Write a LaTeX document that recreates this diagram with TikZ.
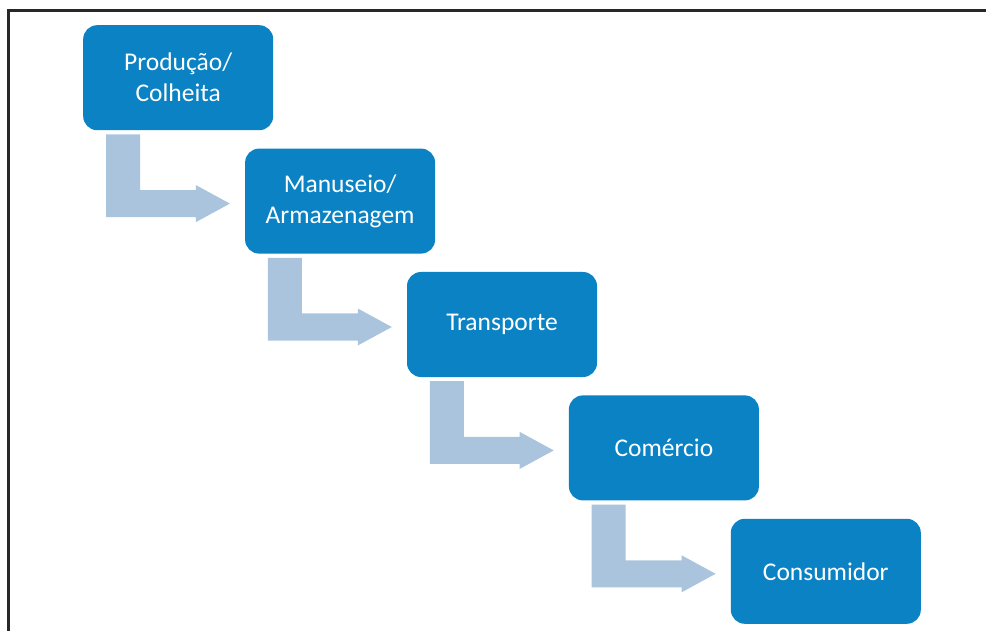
\documentclass[tikz,border=0pt]{standalone}
\usepackage{fontspec}
\setmainfont{Carlito}
\usepackage{tikz}
\usetikzlibrary{positioning}

\definecolor{boxblue}{RGB}{10,130,195}
\definecolor{flowblue}{RGB}{170,196,222}
\definecolor{framegray}{RGB}{40,40,40}

\tikzset{
  stage/.style={rectangle,rounded corners=14pt,fill=boxblue,text=white,
    minimum width=190pt,minimum height=105pt,inner sep=0pt,align=center,
    font=\fontsize{25.5}{31}\selectfont},
  flow/.style={fill=flowblue}
}

% bent arrow from the bottom of one stage to the left of the next
\newcommand\bentarrow[2]{%
  \path ([xshift=23pt,yshift=-4pt]#1.south west) coordinate (#1p)
        ([xshift=-15pt,yshift=-2.5pt]#2.west) coordinate (#1t);
  \fill[flow] (#1p) -- ++(34,0) |- ([shift={(-34,-13.5)}]#1t) -- ++(0,-5)
    -- (#1t) -- ([shift={(-34,18.5)}]#1t) -- ++(0,-5) -| (#1p) -- cycle;
}

\begin{document}
\begin{tikzpicture}[x=1pt,y=-1pt]
  \useasboundingbox (0,0) rectangle (986,631);
  \draw[framegray,line width=2.5pt] (8.3,631) -- (8.3,10.5) -- (986,10.5);

  \node[stage,anchor=north west](prod) at (83,25) {Produção/\\Colheita};
  \node[stage,below right=18pt and -28.5pt of prod](man) {Manuseio/\\Armazenagem};
  \node[stage,below right=18pt and -28.5pt of man](trans) {Transporte};
  \node[stage,below right=18pt and -28.5pt of trans](com) {Comércio};
  \node[stage,below right=18pt and -28.5pt of com](cons) {Consumidor};

  \bentarrow{prod}{man}
  \bentarrow{man}{trans}
  \bentarrow{trans}{com}
  \bentarrow{com}{cons}
\end{tikzpicture}
\end{document}
